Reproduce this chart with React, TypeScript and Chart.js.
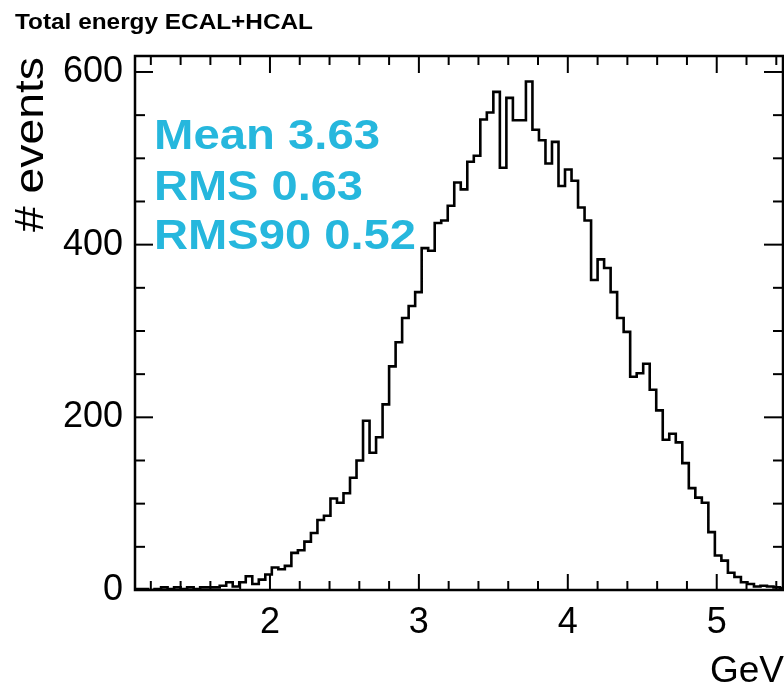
import React, { useEffect, useRef } from 'react';
import { Chart, registerables } from 'chart.js';

Chart.register(...registerables);

// ---- Data ----
const BIN_WIDTH = 0.04375;
const FIRST_BIN_LOW_EDGE = 1.09375;
const binCounts = [
  1, 1, 0, 1, 3, 1, 3, 1, 3, 1, 3, 3, 3, 5, 9, 4, 9, 16, 7, 12,
  18, 26, 24, 28, 43, 46, 56, 66, 81, 86, 106, 101, 112, 130, 150, 196, 159, 177, 215, 259,
  287, 315, 329, 345, 396, 393, 425, 428, 445, 472, 464, 496, 503, 545, 553, 577, 489, 570, 544, 544,
  589, 533, 521, 494, 519, 468, 487, 474, 443, 428, 359, 383, 373, 345, 315, 299, 247, 251, 262, 232,
  208, 174, 181, 171, 147, 118, 107, 101, 67, 40, 34, 20, 15, 9, 7, 4, 5, 4, 3, 2, 1,
];

const X_MIN = 1.09375;
const X_MAX = 5.445;
const Y_MIN = 0;
const Y_MAX = 618.5;
const xMajorTicks = [2, 3, 4, 5];
const yMajorTicks = [0, 200, 400, 600];
const X_MINOR_STEP = 0.2;
const Y_MINOR_STEP = 50;

const TITLE = 'Total energy ECAL+HCAL';
const X_TITLE = 'GeV';
const Y_TITLE = '# events';
const statLines = ['Mean 3.63', 'RMS 0.63', 'RMS90 0.52'];
const STAT_COLOR = '#26b7dd';

const FONT = '"Liberation Sans", Arial, Helvetica, sans-serif';

function drawFitted(
  ctx: CanvasRenderingContext2D,
  text: string,
  x: number,
  y: number,
  font: string,
  targetWidth: number | null,
  color: string,
  rotate = false
) {
  ctx.save();
  ctx.font = font;
  ctx.fillStyle = color;
  ctx.textAlign = 'left';
  ctx.textBaseline = 'alphabetic';
  const w = ctx.measureText(text).width;
  const s = targetWidth ? targetWidth / w : 1;
  ctx.translate(x, y);
  if (rotate) ctx.rotate(-Math.PI / 2);
  ctx.scale(s, 1);
  ctx.fillText(text, 0, 0);
  ctx.restore();
}

const rootFramePlugin = {
  id: 'rootFrame',
  afterDatasetsDraw(chart: any) {
    const { ctx, chartArea: a, scales } = chart;
    const xs = scales.x;
    const ys = scales.y;
    ctx.save();
    ctx.strokeStyle = '#000';
    ctx.lineWidth = 2;
    const seg = (x1: number, y1: number, x2: number, y2: number) => {
      ctx.beginPath();
      ctx.moveTo(x1, y1);
      ctx.lineTo(x2, y2);
      ctx.stroke();
    };
    // x ticks (bottom pointing up, top pointing down)
    const kStart = Math.ceil(X_MIN / X_MINOR_STEP - 1e-9);
    const kEnd = Math.floor(X_MAX / X_MINOR_STEP + 1e-9);
    for (let k = kStart; k <= kEnd; k++) {
      const v = k * X_MINOR_STEP;
      const major = xMajorTicks.some((m) => Math.abs(m - v) < 1e-6);
      const px = xs.getPixelForValue(v);
      seg(px, a.bottom, px, a.bottom - (major ? 16 : 9));
      seg(px, a.top, px, a.top + (major ? 17 : 9));
    }
    // y ticks (left pointing right, right pointing left)
    for (let k = 0; k * Y_MINOR_STEP <= Y_MAX; k++) {
      const v = k * Y_MINOR_STEP;
      const major = yMajorTicks.includes(v);
      const py = ys.getPixelForValue(v);
      seg(a.left, py, a.left + (major ? 18 : 10), py);
      seg(a.right, py, a.right - (major ? 19 : 10), py);
    }
    // frame
    ctx.lineWidth = 2.5;
    ctx.strokeRect(a.left, a.top, a.right - a.left, a.bottom - a.top);
    ctx.restore();

    // texts
    drawFitted(ctx, TITLE, 15, 28.5, `bold 22px ${FONT}`, 298, '#000');
    drawFitted(ctx, Y_TITLE, 43, 232, `40px ${FONT}`, 175, '#000', true);
    drawFitted(ctx, X_TITLE, 710, 681.5, `37px ${FONT}`, null, '#000');
    const statBaselines = [148.5, 200, 248.5];
    const statWidths = [226, 209, 262];
    statLines.forEach((t, i) => {
      drawFitted(ctx, t, 154, statBaselines[i], `bold 42px ${FONT}`, statWidths[i], STAT_COLOR);
    });
  },
};

export default function App() {
  const canvasRef = useRef<HTMLCanvasElement | null>(null);

  useEffect(() => {
    const canvas = canvasRef.current;
    if (!canvas) return;
    const points: { x: number; y: number }[] = [];
    binCounts.forEach((c, i) => {
      const lo = FIRST_BIN_LOW_EDGE + i * BIN_WIDTH;
      points.push({ x: lo, y: c }, { x: lo + BIN_WIDTH, y: c });
    });

    const chart = new Chart(canvas, {
      type: 'line',
      data: {
        datasets: [
          {
            data: points,
            borderColor: '#000',
            borderWidth: 2.6,
            pointRadius: 0,
            fill: false,
            tension: 0,
          },
        ],
      },
      options: {
        animation: false,
        responsive: false,
        maintainAspectRatio: false,
        layout: { padding: { top: 56, right: 1, left: 0, bottom: 0 } },
        plugins: {
          legend: { display: false },
          tooltip: { enabled: false },
          title: { display: false },
        },
        scales: {
          x: {
            type: 'linear',
            min: X_MIN,
            max: X_MAX,
            grid: { display: false, drawTicks: false },
            border: { display: false },
            afterFit: (s: any) => {
              s.height = 103;
            },
            afterBuildTicks: (s: any) => {
              s.ticks = xMajorTicks.map((v) => ({ value: v }));
            },
            ticks: {
              color: '#000',
              font: { size: 36, family: FONT },
              padding: 11,
              maxRotation: 0,
              autoSkip: false,
              callback: (v: any) => String(v),
            },
          },
          y: {
            type: 'linear',
            min: Y_MIN,
            max: Y_MAX,
            grid: { display: false, drawTicks: false },
            border: { display: false },
            afterFit: (s: any) => {
              s.width = 135;
            },
            afterBuildTicks: (s: any) => {
              s.ticks = yMajorTicks.map((v) => ({ value: v }));
            },
            ticks: {
              color: '#000',
              font: { size: 36, family: FONT },
              padding: 12,
              autoSkip: false,
              callback: (v: any) => String(v),
            },
          },
        },
      },
      plugins: [rootFramePlugin],
    });
    return () => chart.destroy();
  }, []);

  return (
    <div
      style={{
        position: 'fixed',
        left: 0,
        top: 0,
        width: 784,
        height: 693,
        background: '#fff',
        overflow: 'hidden',
      }}
    >
      <canvas ref={canvasRef} width={784} height={693} style={{ width: 784, height: 693, display: 'block' }} />
    </div>
  );
}
